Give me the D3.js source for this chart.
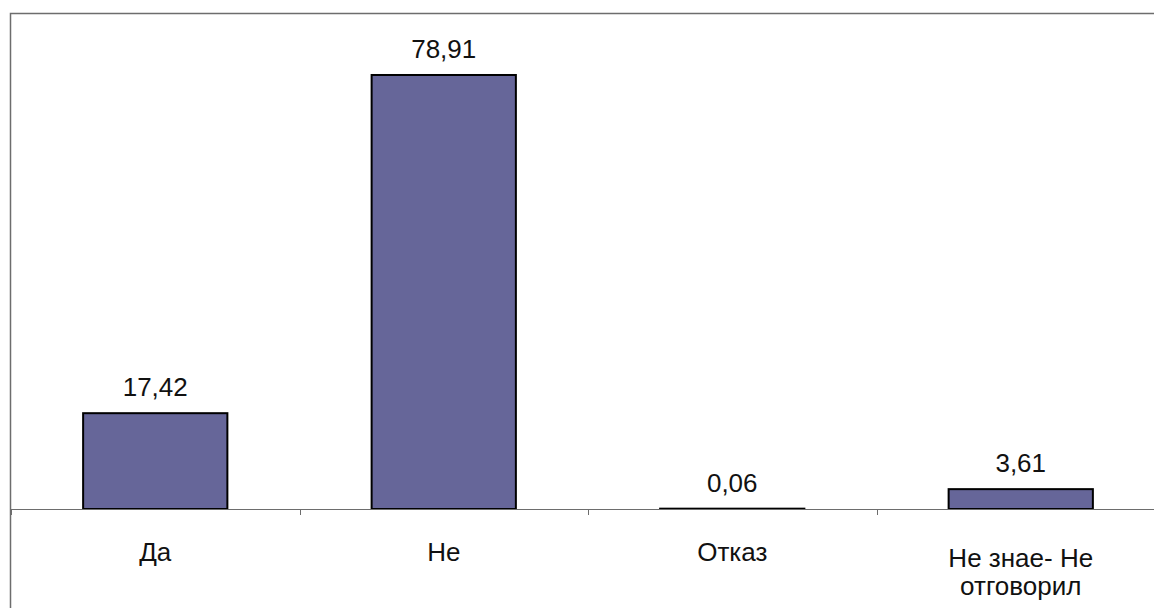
<!DOCTYPE html>
<html>
<head>
<meta charset="utf-8">
<title>Да / Не</title>
<style>
  body { margin: 0; background: #fff; }
  svg text { font-family: "Century Gothic", "Liberation Sans", Arial, sans-serif; fill: #111; }
  .frame { fill: none; stroke: #6d6d6d; stroke-width: 1.5px; }
  .bar { fill: #666699; stroke: #000; stroke-width: 2px; }
  .axis path, .axis line { stroke: #6d6d6d; }
  .value { font-size: 26px; text-anchor: middle; }
  .cat { font-size: 26px; text-anchor: middle; }
</style>
</head>
<body>
<svg width="1154" height="608"></svg>
<script src="https://d3js.org/d3.v7.min.js"></script>
<script>
  // data
  var categories = ["Да", "Не", "Отказ", "Не знае- Не отговорил"];
  var catLines = [["Да"], ["Не"], ["Отказ"], ["Не знае- Не", "отговорил"]];
  var values = [17.42, 78.91, 0.06, 3.61];
  var yMax = 90;

  var svg = d3.select("svg");

  // frame (right and bottom edges run off the picture)
  svg.append("rect")
      .attr("class", "frame")
      .attr("x", 10.5).attr("y", 13.5)
      .attr("width", 1200).attr("height", 700);

  var x = d3.scaleBand()
      .domain(categories)
      .range([11, 1165])
      .paddingInner(0.5)
      .paddingOuter(0.25);

  var y = d3.scaleLinear()
      .domain([0, yMax])
      .range([509, 14]);

  // bars
  svg.selectAll(".bar")
      .data(values)
      .enter().append("rect")
      .attr("class", "bar")
      .attr("x", function(d, i) { return x(categories[i]); })
      .attr("y", function(d) { return y(d); })
      .attr("width", x.bandwidth())
      .attr("height", function(d) { return y(0) - y(d); });

  // axis line with ticks between categories
  var ax = svg.append("g").attr("class", "axis");
  ax.append("line")
      .attr("x1", 11).attr("x2", 1165)
      .attr("y1", y(0) + 0.5).attr("y2", y(0) + 0.5);
  var step = x.step();
  ax.selectAll(".tick")
      .data(d3.range(categories.length + 1))
      .enter().append("line")
      .attr("x1", function(i) { return Math.round(11 + i * step) + 0.5; })
      .attr("x2", function(i) { return Math.round(11 + i * step) + 0.5; })
      .attr("y1", y(0)).attr("y2", y(0) + 6);

  // value labels
  svg.selectAll(".value")
      .data(values)
      .enter().append("text")
      .attr("class", "value")
      .attr("x", function(d, i) { return x(categories[i]) + x.bandwidth() / 2; })
      .attr("y", function(d) { return y(d) - 17; })
      .text(function(d) { return d.toFixed(2).replace(".", ","); });

  // category labels
  svg.selectAll(".cat")
      .data(catLines)
      .enter().append("text")
      .attr("class", "cat")
      .attr("x", function(d, i) { return x(categories[i]) + x.bandwidth() / 2; })
      .attr("y", function(d) { return d.length > 1 ? 567 : 561; })
      .selectAll("tspan")
      .data(function(d) { return d; })
      .enter().append("tspan")
      .attr("x", function() { return d3.select(this.parentNode).attr("x"); })
      .attr("dy", function(d, j) { return j ? 28 : 0; })
      .text(function(d) { return d; });
</script>
</body>
</html>
